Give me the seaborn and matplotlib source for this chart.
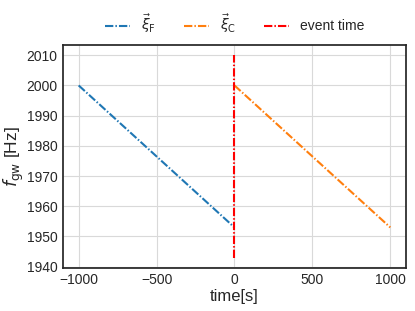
import matplotlib
matplotlib.use('Agg')
import matplotlib.pyplot as plt
import seaborn as sns
import pandas as pd

# data
t_far = [-1000, 0]
f_far = [2000, 1953]
t_close = [0, 1000]
f_close = [2000, 1953]
t_event = [0, 0]
f_event = [1943, 2010]

sns.set_style('whitegrid', {'axes.edgecolor': '0.15', 'grid.color': '0.85'})
plt.rcParams['font.family'] = ['Liberation Sans', 'DejaVu Sans']
plt.rcParams['mathtext.fontset'] = 'dejavusans'

fig = plt.figure(figsize=(4.15, 3.11), dpi=100)
ax = fig.add_axes([0.152, 0.139, 0.826, 0.716])

dd = (0, (4, 1, 0.7, 1))  # short dash-dot
sns.lineplot(x=t_far, y=f_far, ax=ax, color='#1f77b4', linestyle=dd, lw=1.5,
             label=r'$\vec{\xi}_{\rm F}$')
sns.lineplot(x=t_close, y=f_close, ax=ax, color='#ff7f0e', linestyle=dd, lw=1.5,
             label=r'$\vec{\xi}_{\rm C}$')
sns.lineplot(x=t_event, y=f_event, ax=ax, color='red', linestyle=dd, lw=1.5,
             label='event time', orient='y')

ax.set_xticks([-1000, -500, 0, 500, 1000])
ax.set_yticks(range(1940, 2011, 10))
ax.tick_params(labelsize=10, length=0, pad=4)
for s in ax.spines.values():
    s.set_linewidth(1.25)
ax.set_xlabel('time[s]', fontsize=12, labelpad=1)
ax.set_ylabel(r'$f_{\rm gw}$ [Hz]', fontsize=12.5, labelpad=0)

ax.legend(loc='lower center', bbox_to_anchor=(0.5, 1.0), ncol=3, frameon=False,
          fontsize=10, handlelength=1.8, handletextpad=0.8, columnspacing=2.0,
          borderaxespad=0.3)

fig.savefig('out.png', dpi=100)
